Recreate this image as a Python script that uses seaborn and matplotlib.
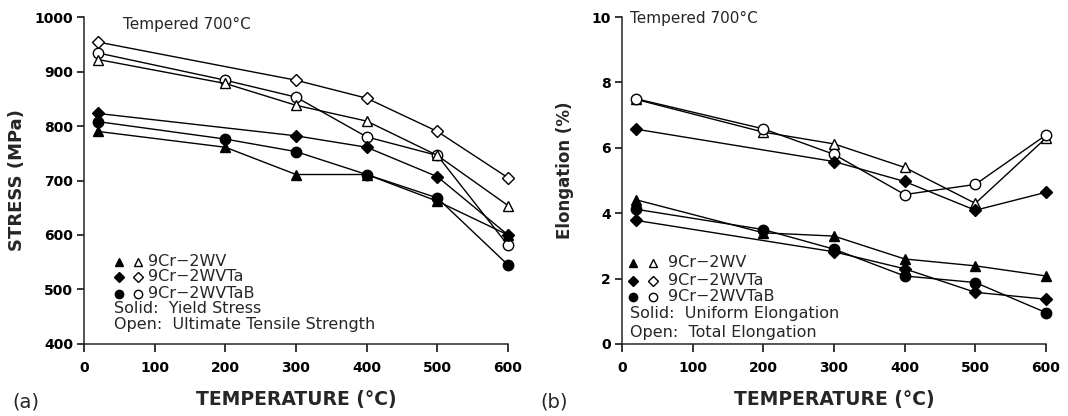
import numpy as np
import pandas as pd
import matplotlib
matplotlib.use("Agg")
import matplotlib.pyplot as plt
import seaborn as sns

# ---------------- data ----------------
temps = [20, 200, 300, 400, 500, 600]

# (a) stress, MPa
ys_wv = [790, 761, 711, 711, 662, 600]
ys_ta = [823, np.nan, 782, 761, 707, 600]
ys_tab = [808, 776, 753, 711, 668, 545]
uts_wv = [922, 878, 838, 809, 746, 654]
uts_ta = [954, np.nan, 884, 851, 790, 705]
uts_tab = [934, 884, 853, 780, 746, 581]

# (b) elongation, %
ue_wv = [4.41, 3.40, 3.30, 2.60, 2.39, 2.08]
ue_ta = [3.78, np.nan, 2.82, 2.30, 1.58, 1.37]
ue_tab = [4.12, 3.50, 2.90, 2.08, 1.88, 0.96]
te_wv = [7.48, 6.48, 6.12, 5.40, 4.30, 6.30]
te_ta = [6.57, np.nan, 5.58, 4.97, 4.09, 4.64]
te_tab = [7.50, 6.58, 5.80, 4.57, 4.88, 6.39]

xticks = [0, 100, 200, 300, 400, 500, 600]
yticks_a = [400, 500, 600, 700, 800, 900, 1000]
yticks_b = [0, 2, 4, 6, 8, 10]

legend_names = ["9Cr\u22122WV", "9Cr\u22122WVTa", "9Cr\u22122WVTaB"]

# ---------------- style ----------------
sns.set_theme(style="ticks")
plt.rcParams["font.family"] = ["DejaVu Sans"]
plt.rcParams["axes.linewidth"] = 1.1

fig = plt.figure(figsize=(10.68, 4.16), dpi=100)
fig.patch.set_facecolor("white")
ax_a = fig.add_axes([0.0787, 0.1731, 0.397, 0.786])
ax_b = fig.add_axes([0.5824, 0.1731, 0.397, 0.786])

MK = {"^": 7.5, "D": 6.0, "o": 7.5}


def draw(ax, y, marker, filled):
    df = pd.DataFrame({"T": temps, "v": y}).dropna()
    sns.lineplot(data=df, x="T", y="v", ax=ax, color="black", linewidth=1.0,
                 marker=marker, markersize=MK[marker],
                 markerfacecolor="black" if filled else "white",
                 markeredgecolor="black", markeredgewidth=1.0,
                 errorbar=None, sort=False, clip_on=False)


for ax in (ax_a, ax_b):
    ax.set_facecolor("white")
    sns.despine(ax=ax)
    ax.set_xlim(0, 600)
    ax.set_xticks(xticks)
    ax.tick_params(axis="both", direction="out", width=1.1, colors="black",
                   labelsize=10)
    ax.tick_params(axis="x", length=6, pad=6)
    ax.tick_params(axis="y", length=5, pad=3)
    for lab in ax.get_xticklabels() + ax.get_yticklabels():
        lab.set_fontweight("bold")
    ax.grid(False)

# panel (a)
draw(ax_a, uts_ta, "D", False)
draw(ax_a, uts_tab, "o", False)
draw(ax_a, uts_wv, "^", False)
draw(ax_a, ys_ta, "D", True)
draw(ax_a, ys_tab, "o", True)
draw(ax_a, ys_wv, "^", True)
ax_a.set_ylim(400, 1000)
ax_a.set_yticks(yticks_a)
ax_a.set_yticklabels([str(v) for v in yticks_a], fontweight="bold")
ax_a.set_xticklabels([str(v) for v in xticks], fontweight="bold")

# panel (b)
draw(ax_b, te_wv, "^", False)
draw(ax_b, te_tab, "o", False)
draw(ax_b, te_ta, "D", True)
draw(ax_b, ue_wv, "^", True)
draw(ax_b, ue_ta, "D", True)
draw(ax_b, ue_tab, "o", True)
ax_b.set_ylim(0, 10)
ax_b.set_yticks(yticks_b)
ax_b.set_yticklabels([str(v) for v in yticks_b], fontweight="bold")
ax_b.set_xticklabels([str(v) for v in xticks], fontweight="bold")

# axis labels
for ax, ylab, yx, yy in ((ax_a, "STRESS (MPa)", -0.158, 0.50),
                         (ax_b, "Elongation (%)", -0.134, 0.53)):
    ax.set_xlabel("TEMPERATURE (\u00b0C)", fontsize=13.5, fontweight="bold")
    ax.xaxis.set_label_coords(0.5, -0.171)
    ax.xaxis.label.set_va("center")
    ax.set_ylabel(ylab, fontsize=13 if ax is ax_a else 12, fontweight="bold")
    ax.yaxis.set_label_coords(yx, yy)
    ax.yaxis.label.set_va("center")

# annotations
ax_a.text(0.092, 0.976, "Tempered 700\u00b0C", transform=ax_a.transAxes,
          fontsize=11, va="center", ha="left")
ax_b.text(0.019, 0.997, "Tempered 700\u00b0C", transform=ax_b.transAxes,
          fontsize=11, va="center", ha="left")


def legend_block(ax, xs, ys, texts):
    x_solid, x_open, x_txt, x_left = xs
    markers = ["^", "D", "o"]
    for m, yv, name in zip(markers, ys[:3], legend_names):
        ax.plot([x_solid], [yv], marker=m, color="black", markersize=MK[m] * 0.8,
                markerfacecolor="black", transform=ax.transAxes, clip_on=False)
        ax.plot([x_open], [yv], marker=m, color="black", markersize=MK[m] * 0.8,
                markerfacecolor="white", markeredgewidth=1.0,
                transform=ax.transAxes, clip_on=False)
        ax.text(x_txt, yv, name, transform=ax.transAxes, fontsize=11.5,
                va="center", ha="left")
    for yv, t in zip(ys[3:], texts):
        ax.text(x_left, yv, t, transform=ax.transAxes, fontsize=11.5,
                va="center", ha="left")


legend_block(ax_a, (0.083, 0.128, 0.151, 0.071),
             (0.251, 0.205, 0.153, 0.110, 0.061),
             ["Solid:  Yield Stress", "Open:  Ultimate Tensile Strength"])
legend_block(ax_b, (0.026, 0.073, 0.108, 0.019),
             (0.248, 0.193, 0.144, 0.092, 0.034),
             ["Solid:  Uniform Elongation", "Open:  Total Elongation"])

fig.text(12 / 1068, 1 - 402 / 416, "(a)", fontsize=14, va="center", ha="left")
fig.text(540 / 1068, 1 - 402 / 416, "(b)", fontsize=14, va="center", ha="left")

fig.savefig("out.png", dpi=100, facecolor="white")
